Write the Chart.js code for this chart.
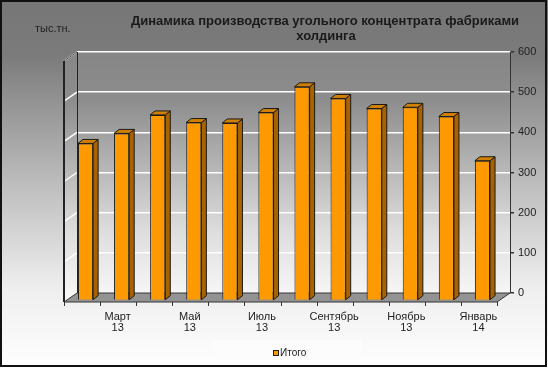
<!DOCTYPE html>
<html>
<head>
<meta charset="utf-8">
<script src="https://cdn.jsdelivr.net/npm/chart.js@4/dist/chart.umd.min.js"></script>
<style>
  html, body { margin: 0; padding: 0; background: #fff; }
  #wrap { width: 548px; height: 368px; }
</style>
</head>
<body>
<div id="wrap"><canvas id="myChart" width="548" height="368"></canvas></div>
<script>
// data
const categories = [
    ['Февраль', '13'], ['Март', '13'], ['Апрель', '13'], ['Май', '13'],
    ['Июнь', '13'], ['Июль', '13'], ['Август', '13'], ['Сентябрь', '13'],
    ['Октябрь', '13'], ['Ноябрь', '13'], ['Декабрь', '13'], ['Январь', '14']
];
const totals = [391, 416, 462, 443, 442, 468, 532, 503, 478, 481, 458, 348];
const seriesName = 'Итого';
const yMax = 600;
const yStep = 100;
const titleLines = ['Динамика производства угольного концентрата фабриками', 'холдинга'];
const unitLabel = 'тыс.тн.';

const FONT = "'Liberation Sans', Arial, sans-serif";
const wallDepth = { x: -13, y: 9 };   // back wall -> front edge
const barShift = { x: -9.5, y: 7.5 }; // bars sit in front of the wall
const barDepth = { x: 5, y: -4 };

function poly(ctx, pts, fill, stroke, lw) {
    ctx.beginPath();
    ctx.moveTo(pts[0][0], pts[0][1]);
    for (let i = 1; i < pts.length; i++) ctx.lineTo(pts[i][0], pts[i][1]);
    ctx.closePath();
    if (fill) { ctx.fillStyle = fill; ctx.fill(); }
    if (stroke) { ctx.strokeStyle = stroke; ctx.lineWidth = lw || 1; ctx.stroke(); }
}

const excel3d = {
    id: 'excel3d',
    beforeDraw(chart) {
        const ctx = chart.ctx;
        const a = chart.chartArea;
        const W = chart.width, H = chart.height;
        ctx.save();
        // outer background
        let g = ctx.createLinearGradient(0, 0, 0, H);
        g.addColorStop(0, '#767676');
        g.addColorStop(0.15, '#7b7b7b');
        g.addColorStop(0.5, '#bdbdbd');
        g.addColorStop(0.78, '#eeeeee');
        g.addColorStop(1, '#ffffff');
        ctx.fillStyle = g;
        ctx.fillRect(0, 0, W, H);
        // back wall
        g = ctx.createLinearGradient(0, a.top, 0, a.bottom);
        g.addColorStop(0, '#868686');
        g.addColorStop(0.2, '#8d8d8d');
        g.addColorStop(0.5, '#b9b9b9');
        g.addColorStop(0.75, '#dedede');
        g.addColorStop(1, '#f6f6f6');
        ctx.fillStyle = g;
        ctx.fillRect(a.left, a.top, a.right - a.left, a.bottom - a.top);
        // left wall
        poly(ctx, [[a.left, a.top], [a.left, a.bottom],
            [a.left + wallDepth.x, a.bottom + wallDepth.y],
            [a.left + wallDepth.x, a.top + wallDepth.y]], g);
        ctx.restore();
    },
    beforeDatasetsDraw(chart) {
        const ctx = chart.ctx;
        const a = chart.chartArea;
        const y = chart.scales.y;
        ctx.save();
        // gridlines continued on the left wall
        ctx.strokeStyle = '#ffffff';
        ctx.lineWidth = 1.5;
        y.ticks.forEach(t => {
            const py = y.getPixelForValue(t.value);
            ctx.beginPath();
            ctx.moveTo(a.left, py);
            ctx.lineTo(a.left + wallDepth.x, py + wallDepth.y);
            ctx.stroke();
        });
        // wall edges
        ctx.strokeStyle = '#222';
        ctx.lineWidth = 1;
        ctx.beginPath();
        ctx.moveTo(a.left + 0.5, a.top);
        ctx.lineTo(a.left + 0.5, a.bottom);
        ctx.stroke();
        ctx.lineWidth = 2;
        ctx.beginPath();
        ctx.moveTo(a.left + wallDepth.x, a.top + wallDepth.y);
        ctx.lineTo(a.left + wallDepth.x, a.bottom + wallDepth.y);
        ctx.stroke();
        ctx.lineWidth = 1;
        ctx.strokeStyle = '#444';
        ctx.beginPath();
        ctx.moveTo(a.left + wallDepth.x, a.top + wallDepth.y);
        ctx.lineTo(a.left, a.top);
        ctx.stroke();
        // floor
        poly(ctx, [[a.left, a.bottom], [a.right, a.bottom],
            [a.right + wallDepth.x, a.bottom + wallDepth.y],
            [a.left + wallDepth.x, a.bottom + wallDepth.y]], '#939393', '#333', 1);
        // ticks on the front edge of the floor
        const fy = a.bottom + wallDepth.y;
        const step = (a.right - a.left) / categories.length;
        ctx.strokeStyle = '#333';
        for (let i = 0; i <= categories.length; i++) {
            const fx = Math.round(a.left + i * step + wallDepth.x) + 0.5;
            ctx.beginPath();
            ctx.moveTo(fx, fy);
            ctx.lineTo(fx, fy + 4);
            ctx.stroke();
        }
        ctx.restore();
        // bars are drawn shifted toward the front
        ctx.save();
        ctx.translate(barShift.x, barShift.y);
    },
    afterDatasetsDraw(chart) {
        const ctx = chart.ctx;
        const meta = chart.getDatasetMeta(0);
        meta.data.forEach(bar => {
            const p = bar.getProps(['x', 'y', 'base', 'width'], true);
            const l = p.x - p.width / 2, r = p.x + p.width / 2;
            poly(ctx, [[r, p.y], [r + barDepth.x, p.y + barDepth.y],
                [r + barDepth.x, p.base + barDepth.y], [r, p.base]], '#a86300', '#1a1a1a', 1);
            poly(ctx, [[l, p.y], [l + barDepth.x, p.y + barDepth.y],
                [r + barDepth.x, p.y + barDepth.y], [r, p.y]], '#d07f00', '#1a1a1a', 1);
        });
        ctx.restore();
    },
    afterDraw(chart) {
        const ctx = chart.ctx;
        ctx.save();
        // title
        ctx.fillStyle = '#1a1a1a';
        ctx.textAlign = 'center';
        ctx.textBaseline = 'middle';
        ctx.font = 'bold 13px ' + FONT;
        ctx.fillText(titleLines[0], 325, 21);
        ctx.fillText(titleLines[1], 326, 36);
        // unit
        ctx.font = '11px ' + FONT;
        ctx.fillStyle = '#222';
        ctx.textAlign = 'left';
        ctx.fillText(unitLabel, 35, 29);
        // legend
        ctx.fillStyle = '#fcfcfc';
        ctx.fillRect(213, 340, 149, 18);
        ctx.fillStyle = '#ff9900';
        ctx.fillRect(274, 350.5, 5, 5);
        ctx.strokeStyle = '#222';
        ctx.lineWidth = 1;
        ctx.strokeRect(273.5, 350.5, 5, 5);
        ctx.fillStyle = '#222';
        ctx.font = '10px ' + FONT;
        ctx.fillText(seriesName, 280, 353.5);
        // frame
        ctx.strokeStyle = '#111';
        ctx.lineWidth = 2;
        ctx.strokeRect(1, 1, 545, 365);
        ctx.restore();
    }
};

function renderChart() {
    const ctx = document.getElementById('myChart');

    new Chart(ctx, {
        type: 'bar',
        data: {
            labels: categories,
            datasets: [{
                label: seriesName,
                data: totals,
                backgroundColor: '#ff9900',
                borderColor: '#1a1a1a',
                borderWidth: 1,
                barPercentage: 0.42,
                categoryPercentage: 1
            }]
        },
        options: {
            responsive: false,
            animation: false,
            layout: { padding: { left: 77, top: 52, right: 0, bottom: 0 } },
            plugins: {
                legend: { display: false },
                title: { display: false },
                tooltip: { enabled: false }
            },
            scales: {
                x: {
                    grid: { display: false, drawTicks: false },
                    border: { display: false },
                    afterFit(scale) { scale.height = 75; },
                    ticks: {
                        autoSkip: false,
                        maxRotation: 0,
                        padding: 18,
                        labelOffset: -13.5,
                        color: '#222',
                        font: { family: FONT, size: 11, lineHeight: 1.05 },
                        callback(value, index) {
                            return index % 2 === 1 ? categories[index] : '';
                        }
                    }
                },
                y: {
                    position: 'right',
                    min: 0,
                    max: yMax,
                    afterFit(scale) { scale.width = 38; },
                    grid: {
                        color: '#ffffff',
                        lineWidth: 1.5,
                        tickColor: '#333',
                        tickLength: 4
                    },
                    border: { color: '#333', width: 1 },
                    ticks: {
                        stepSize: yStep,
                        padding: 4,
                        color: '#222',
                        font: { family: FONT, size: 11 }
                    }
                }
            }
        },
        plugins: [excel3d]
    });
}

renderChart();
</script>
</body>
</html>
